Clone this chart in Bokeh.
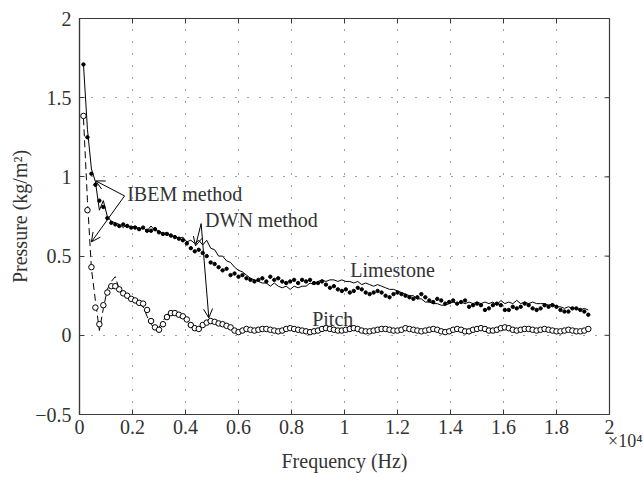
import math
from bokeh.plotting import figure
from bokeh.models import (Range1d, FixedTicker, Label, Arrow, OpenHead,
                          ColumnDataSource, LinearAxis)
from bokeh.embed import file_html
from bokeh.resources import INLINE

# ---------------- data ----------------
freq = list(range(150, 19201, 150))  # Hz, 128 samples

limestone_dwn = [
    1.71, 1.25, 1.02, 0.95, 0.85, 0.81, 0.74, 0.71, 0.70, 0.69,
    0.70, 0.69, 0.68, 0.68, 0.67, 0.68, 0.66, 0.66, 0.67, 0.65,
    0.64, 0.64, 0.63, 0.62, 0.61, 0.60, 0.58, 0.55, 0.53, 0.54,
    0.52, 0.50, 0.46, 0.45, 0.43, 0.41, 0.42, 0.38, 0.39, 0.37,
    0.38, 0.36, 0.35, 0.34, 0.35, 0.36, 0.34, 0.37, 0.35, 0.36,
    0.34, 0.33, 0.34, 0.35, 0.33, 0.35, 0.34, 0.35, 0.33, 0.33,
    0.34, 0.32, 0.30, 0.31, 0.29, 0.28, 0.29, 0.27, 0.28, 0.30,
    0.29, 0.27, 0.26, 0.27, 0.28, 0.27, 0.25, 0.24, 0.26, 0.27,
    0.26, 0.25, 0.24, 0.23, 0.24, 0.26, 0.24, 0.22, 0.21, 0.23,
    0.22, 0.20, 0.21, 0.22, 0.20, 0.21, 0.22, 0.18, 0.19, 0.20,
    0.19, 0.16, 0.17, 0.19, 0.20, 0.19, 0.16, 0.16, 0.18, 0.17,
    0.18, 0.20, 0.19, 0.17, 0.16, 0.17, 0.19, 0.18, 0.19, 0.18,
    0.16, 0.15, 0.15, 0.17, 0.17, 0.16, 0.15, 0.13]

limestone_ibem = [
    1.71, 1.30, 1.05, 0.97, 0.79, 0.85, 0.75, 0.72, 0.71, 0.70,
    0.68, 0.70, 0.68, 0.69, 0.67, 0.68, 0.66, 0.69, 0.66, 0.66,
    0.64, 0.65, 0.62, 0.63, 0.61, 0.62, 0.59, 0.60, 0.58, 0.60,
    0.57, 0.60, 0.55, 0.54, 0.50, 0.50, 0.47, 0.46, 0.43, 0.41,
    0.40, 0.38, 0.36, 0.35, 0.34, 0.33, 0.33, 0.31, 0.33, 0.31,
    0.30, 0.31, 0.29, 0.31, 0.30, 0.31, 0.31, 0.33, 0.32, 0.34,
    0.35, 0.34, 0.35, 0.35, 0.34, 0.35, 0.34, 0.34, 0.33, 0.34,
    0.32, 0.33, 0.32, 0.31, 0.32, 0.31, 0.30, 0.29, 0.29, 0.28,
    0.27, 0.26, 0.25, 0.25, 0.23, 0.23, 0.21, 0.21, 0.20, 0.20,
    0.19, 0.19, 0.20, 0.21, 0.20, 0.21, 0.20, 0.21, 0.20, 0.21,
    0.20, 0.21, 0.20, 0.21, 0.19, 0.22, 0.20, 0.21, 0.20, 0.22,
    0.20, 0.21, 0.20, 0.21, 0.20, 0.20, 0.20, 0.19, 0.20, 0.18,
    0.18, 0.17, 0.18, 0.17, 0.17, 0.16, 0.17, 0.16]

pitch_dwn = [
    1.385, 0.79, 0.43, 0.175, 0.07, 0.19, 0.27, 0.31, 0.31, 0.29,
    0.265, 0.25, 0.23, 0.22, 0.205, 0.20, 0.16, 0.09, 0.05, 0.035,
    0.07, 0.115, 0.14, 0.14, 0.13, 0.12, 0.10, 0.065, 0.045, 0.04,
    0.065, 0.08, 0.09, 0.085, 0.075, 0.07, 0.06, 0.05, 0.03, 0.02,
    0.03, 0.04, 0.035, 0.03, 0.035, 0.04, 0.04, 0.035, 0.03, 0.025,
    0.03, 0.04, 0.045, 0.04, 0.035, 0.03, 0.025, 0.02, 0.025, 0.03,
    0.04, 0.045, 0.04, 0.035, 0.03, 0.03, 0.035, 0.04, 0.045, 0.04,
    0.03, 0.025, 0.025, 0.03, 0.035, 0.04, 0.04, 0.035, 0.03, 0.03,
    0.035, 0.045, 0.04, 0.035, 0.03, 0.025, 0.03, 0.035, 0.04, 0.035,
    0.025, 0.02, 0.025, 0.035, 0.04, 0.035, 0.025, 0.025, 0.035, 0.04,
    0.045, 0.04, 0.03, 0.03, 0.035, 0.045, 0.05, 0.045, 0.035, 0.03,
    0.035, 0.04, 0.04, 0.035, 0.03, 0.035, 0.04, 0.035, 0.03, 0.025,
    0.025, 0.03, 0.035, 0.03, 0.025, 0.025, 0.03, 0.04]

pitch_ibem = [
    1.37, 0.85, 0.42, 0.22, 0.03, 0.17, 0.29, 0.34, 0.37, 0.29,
    0.27, 0.24, 0.235, 0.21, 0.20, 0.18, 0.12, 0.07, 0.04, 0.05,
    0.09, 0.13, 0.145, 0.14, 0.125, 0.11, 0.085, 0.055, 0.035, 0.05,
    0.075, 0.09, 0.085, 0.08, 0.07, 0.065, 0.05, 0.04, 0.025, 0.025,
    0.035, 0.04, 0.03, 0.035, 0.04, 0.045, 0.035, 0.03, 0.03, 0.03,
    0.035, 0.045, 0.04, 0.035, 0.03, 0.025, 0.025, 0.025, 0.03, 0.035,
    0.045, 0.04, 0.035, 0.03, 0.035, 0.035, 0.04, 0.045, 0.04, 0.035,
    0.025, 0.03, 0.03, 0.035, 0.04, 0.045, 0.035, 0.03, 0.03, 0.035,
    0.04, 0.04, 0.035, 0.03, 0.03, 0.03, 0.035, 0.04, 0.035, 0.03,
    0.02, 0.025, 0.03, 0.04, 0.035, 0.03, 0.025, 0.03, 0.04, 0.045,
    0.04, 0.035, 0.03, 0.035, 0.04, 0.05, 0.045, 0.04, 0.03, 0.035,
    0.04, 0.045, 0.035, 0.03, 0.035, 0.04, 0.035, 0.03, 0.025, 0.03,
    0.03, 0.035, 0.03, 0.025, 0.03, 0.03, 0.035, 0.04]

x_ticks = [0, 2000, 4000, 6000, 8000, 10000, 12000, 14000, 16000, 18000, 20000]
x_tick_labels = ["0", "0.2", "0.4", "0.6", "0.8", "1", "1.2", "1.4", "1.6", "1.8", "2"]
x_scale_note = "\u00d710\u2074"
y_ticks = [-0.5, 0, 0.5, 1, 1.5, 2]
y_tick_labels = ["\u22120.5", "0", "0.5", "1", "1.5", "2"]

# annotation anchors (data coordinates)
ibem_text = ("IBEM method", 1800, 0.89)
dwn_text = ("DWN method", 4740, 0.73)
limestone_text = ("Limestone", 10220, 0.41)
pitch_text = ("Pitch", 8780, 0.105)
ibem_arrows = [((1700, 0.88), (610, 0.975)), ((1700, 0.88), (450, 0.59))]
dwn_arrows = [((4590, 0.705), (4380, 0.565)), ((4590, 0.705), (4880, 0.11))]

# ---------------- figure ----------------
FONT = "Liberation Serif"
TXT = "#333333"
AX = "#3a3a3a"

src = ColumnDataSource(dict(f=freq, ld=limestone_dwn, li=limestone_ibem,
                            pd=pitch_dwn, pi=pitch_ibem))

p = figure(width=643, height=477, output_backend="svg", toolbar_location=None,
           x_range=Range1d(x_ticks[0], x_ticks[-1]),
           y_range=Range1d(y_ticks[0], y_ticks[-1]),
           min_border_left=79, min_border_right=34, min_border_top=18,
           min_border_bottom=63, background_fill_color="white",
           border_fill_color="white")
p.outline_line_color = AX
p.outline_line_width = 1.2

for ax in (p.xaxis[0], p.yaxis[0]):
    ax.axis_line_color = AX
    ax.axis_line_width = 1.2
    ax.major_tick_in = 5
    ax.major_tick_out = 0
    ax.major_tick_line_color = AX
    ax.minor_tick_line_color = None
    ax.major_label_text_font = FONT
    ax.major_label_text_font_size = "20px"
    ax.major_label_text_color = TXT
    ax.axis_label_text_font = FONT
    ax.axis_label_text_font_size = "20px"
    ax.axis_label_text_font_style = "normal"
    ax.axis_label_text_color = TXT

p.xaxis.ticker = FixedTicker(ticks=x_ticks)
p.xaxis.major_label_overrides = {t: s for t, s in zip(x_ticks, x_tick_labels)}
p.yaxis.ticker = FixedTicker(ticks=y_ticks)
p.yaxis.major_label_overrides = {t: s for t, s in zip(y_ticks, y_tick_labels)}
p.yaxis.axis_label = "Pressure (kg/m\u00b2)"
p.xaxis.major_label_standoff = 5
p.yaxis.major_label_standoff = 8
p.yaxis.axis_label_standoff = 1

# second (tick-less) axis below: carries the x10^4 note and the axis title
note_axis = LinearAxis(
    ticker=FixedTicker(ticks=[x_ticks[-1]]),
    major_label_overrides={x_ticks[-1]: "\u00a0" * 7 + x_scale_note},
    major_label_standoff=-6, major_label_text_font=FONT,
    major_label_text_font_size="18px", major_label_text_color=TXT,
    axis_line_color=None, major_tick_line_color=None, minor_tick_line_color=None,
    major_tick_in=0, major_tick_out=0,
    axis_label="Frequency (Hz)", axis_label_standoff=-4,
    axis_label_text_font=FONT, axis_label_text_font_size="20px",
    axis_label_text_font_style="normal", axis_label_text_color=TXT)
p.add_layout(note_axis, "below")

for g in (p.xgrid[0], p.ygrid[0]):
    g.grid_line_color = "#444444"
    g.grid_line_dash = "1 11"
    g.grid_line_width = 1.1
p.xgrid.ticker = FixedTicker(ticks=x_ticks)
p.ygrid.ticker = FixedTicker(ticks=y_ticks)

# mirrored inward ticks on the top and right edges of the box
p.ray(x=x_ticks, y=[y_ticks[-1]] * len(x_ticks), length=5, length_units="screen",
      angle=-math.pi / 2, line_color=AX, line_width=1)
p.ray(x=[x_ticks[-1]] * len(y_ticks), y=y_ticks, length=5, length_units="screen",
      angle=math.pi, line_color=AX, line_width=1)

# series
p.line("f", "pi", source=src, line_color="black", line_width=1, line_dash="7 4")
p.scatter("f", "pd", source=src, marker="circle", size=5.5, line_color="black",
          line_width=1, fill_color="white")
p.line("f", "li", source=src, line_color="black", line_width=1)
p.scatter("f", "ld", source=src, marker="circle", size=3.4, line_color="black",
          fill_color="black")

# annotations
for text, x, y in (ibem_text, dwn_text, limestone_text, pitch_text):
    p.add_layout(Label(x=x, y=y, text=text, text_font=FONT, text_font_size="20px",
                       text_color=TXT, text_baseline="alphabetic"))
for (x0, y0), (x1, y1) in ibem_arrows + dwn_arrows:
    p.add_layout(Arrow(x_start=x0, y_start=y0, x_end=x1, y_end=y1,
                       line_color="black", line_width=1,
                       end=OpenHead(size=9, line_color="black", line_width=1)))

open("out.html", "w").write(file_html(p, INLINE))
